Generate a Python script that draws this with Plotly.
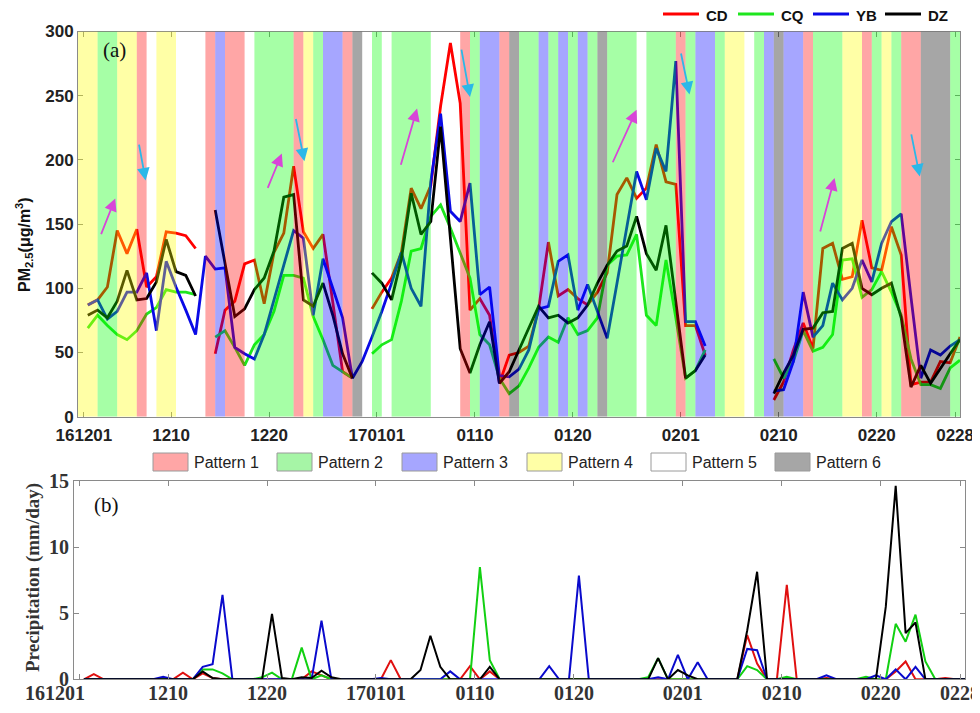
import plotly.graph_objects as go

N = None
W, H = 980, 713          # reference picture size
OFF = 8                  # page body margin offset
FW, FH = W, H - OFF

# ---------------- data ----------------
days = list(range(90))  # day index starting 2016-12-01
tick_pos = [-0.4, 8.5, 18.5, 29.5, 39.5, 49.5, 60.5, 70.5, 80.5, 88.5]
tick_labels = ['161201', '1210', '1220', '170101', '0110', '0120', '0201', '0210', '0220', '0228']

# weather pattern of each day (1..6)
pattern = [4, 4, 2, 2, 4, 4, 1, 5, 4, 4,
           5, 5, 5, 1, 3, 1, 1, 5, 2, 2,
           2, 2, 1, 4, 2, 3, 3, 1, 6, 5,
           2, 5, 2, 2, 2, 2, 5, 5, 5, 1,
           2, 3, 3, 1, 6, 2, 2, 3, 2, 3,
           2, 3, 2, 6, 2, 2, 2, 5, 2, 2,
           2, 1, 2, 3, 3, 2, 4, 4, 5, 2,
           3, 6, 3, 3, 1, 2, 2, 2, 4, 4,
           1, 2, 4, 2, 1, 1, 6, 6, 6, 2]
pattern_names = ['Pattern 1', 'Pattern 2', 'Pattern 3', 'Pattern 4', 'Pattern 5', 'Pattern 6']

# PM2.5 (ug/m3)
pm_cd = [87, 91, 101, 145, 127, 146, 101, 109, 144, 143,
         141, 131, N, 49, 83, 90, 119, 122, 88, 128,
         143, 195, 144, 131, 142, 89, 35, 30, N, 84,
         97, 108, 128, 178, 162, 180, 242, 291, 244, 83,
         92, 79, 26, 48, 50, 55, 84, 136, 94, 99,
         92, 87, 97, 112, 173, 186, 170, 178, 212, 183,
         181, 71, 71, 48, N, N, N, N, N, N,
         13, 27, 52, 73, 53, 131, 135, 107, 109, 153,
         116, 114, 148, 126, 25, 27, 27, 43, 42, 62]
pm_cq = [69, 79, 71, 64, 60, 67, 80, 85, 99, 97,
         97, 95, N, 62, 67, 54, 40, 56, 64, 82,
         110, 110, 108, 78, 60, 40, 35, 30, N, 49,
         56, 60, 90, 129, 131, 156, 165, 147, 128, 108,
         64, 56, 30, 18, 24, 38, 54, 62, 58, 77,
         64, 67, 77, 118, 125, 126, 142, 79, 71, 122,
         77, 30, 36, 52, N, N, N, N, N, N,
         45, 30, 43, 67, 51, 54, 64, 122, 123, 93,
         99, 113, 97, 79, 45, 25, 25, 22, 38, 44]
pm_yb = [87, 91, 76, 82, 97, 97, 112, 67, 121, 101,
         83, 64, 125, 115, 116, 54, 49, 45, 64, 90,
         118, 145, 139, 79, 123, 100, 77, 30, 43, 62,
         82, 104, 128, 100, 86, 183, 236, 160, 152, 182,
         95, 101, 32, 31, 37, 52, 84, 86, 121, 126,
         83, 103, 82, 61, 104, 148, 191, 169, 209, 191,
         277, 74, 74, 55, N, N, N, N, N, N,
         20, 21, 43, 97, 62, 71, 104, 91, 100, 122,
         105, 135, 152, 158, 93, 30, 52, 48, 55, 60]
pm_dz = [79, 83, 77, 90, 114, 91, 92, 105, 138, 113,
         110, 94, N, 161, 120, 78, 84, 99, 108, 129,
         171, 173, 91, 86, 104, 79, 49, 30, N, 112,
         104, 91, 123, 174, 142, 152, 226, 139, 53, 34,
         56, 74, 26, 35, 52, 69, 86, 77, 79, 73,
         77, 87, 104, 118, 129, 133, 156, 127, 114, 149,
         88, 30, 36, 48, N, N, N, N, N, N,
         18, 34, 48, 68, 69, 81, 82, 131, 135, 100,
         95, 100, 104, 77, 23, 40, 26, 38, 49, 60]

# Precipitation (mm/day)
pr_cd = [0, 0.4, 0, 0, 0, 0, 0, 0, 0, 0,
         0.5, 0, 0.45, 0.1, 0, 0, 0, 0, 0, 0,
         0, 0, 0, 0.6, 0.3, 0, 0, 0, 0, 0,
         0, 1.45, 0, 0, 0, 0, 0, 0, 0, 1.0,
         0, 0.6, 0, 0, 0, 0, 0, 0, 0, 0,
         0, 0, 0, 0, 0, 0, 0, 0, 0, 0,
         0, 0, 0, 0, 0, 0, 0, 3.35, 1.2, 0,
         0, 7.15, 0, 0, 0, 0.1, 0, 0, 0, 0,
         0, 0, 0.6, 1.35, 0, 0, 0, 0.1, 0, 0]
pr_cq = [0, 0, 0, 0, 0, 0, 0, 0, 0, 0,
         0, 0, 0.75, 0.75, 0.45, 0, 0, 0, 0.15, 0.5,
         0, 0, 2.4, 0, 0.3, 0, 0, 0, 0, 0,
         0, 0, 0, 0, 0, 0, 0, 0, 0, 0,
         8.5, 1.45, 0, 0, 0, 0, 0, 0, 0, 0,
         0, 0, 0, 0, 0, 0, 0, 0.15, 1.6, 0,
         0, 0, 0, 0, 0, 0, 0, 1.0, 0.7, 0,
         0, 0.2, 0, 0, 0, 0, 0, 0, 0, 0.2,
         0, 0, 4.2, 2.85, 4.9, 1.35, 0, 0, 0, 0]
pr_yb = [0, 0, 0, 0, 0, 0, 0, 0, 0.2, 0,
         0, 0, 0.95, 1.15, 6.4, 0, 0, 0, 0, 0,
         0, 0, 0, 0, 4.45, 0, 0, 0, 0, 0,
         0.1, 0, 0, 0, 0, 0, 0, 0.6, 0, 0,
         0, 0, 0, 0, 0, 0, 0, 1.0, 0, 0,
         7.85, 0, 0, 0, 0, 0, 0, 0, 0.15, 0,
         1.85, 0, 1.3, 0, 0, 0, 0, 2.3, 2.2, 0,
         0, 0, 0, 0, 0, 0.3, 0, 0, 0, 0,
         0.3, 0, 0.75, 0, 0.95, 0, 0, 0, 0, 0]
pr_dz = [0, 0, 0, 0, 0, 0, 0, 0, 0, 0,
         0, 0, 0.6, 0.1, 0, 0, 0, 0, 0, 4.95,
         0.1, 0, 0.15, 0.1, 0.65, 0.15, 0, 0, 0, 0,
         0, 0, 0, 0, 0.7, 3.3, 0.95, 0, 0, 0,
         0, 0.95, 0, 0, 0, 0, 0, 0, 0, 0,
         0, 0, 0, 0, 0, 0, 0, 0, 1.6, 0,
         0.7, 0.3, 0, 0, 0, 0, 0, 3.7, 8.15, 0,
         0, 0, 0, 0, 0, 0, 0, 0, 0, 0,
         0, 5.5, 14.65, 3.5, 4.3, 0, 0, 0, 0, 0]

site_names = ['CD', 'CQ', 'YB', 'DZ']

# arrows: (tail_x, tail_y, head_x, head_y, kind) in data units
arrows = [(1.3, 141, 2.8, 170, 'up'), (5.2, 213, 5.9, 184, 'down'),
          (18.3, 177, 19.8, 205, 'up'), (21.2, 233, 22.1, 199, 'down'),
          (31.9, 195, 33.6, 240, 'up'), (38.1, 287, 39.0, 249, 'down'),
          (53.5, 197, 56.0, 239, 'up'), (60.5, 284, 61.4, 251, 'down'),
          (74.7, 143, 76.2, 186, 'up'), (84.0, 221, 84.9, 187, 'down')]

# ---------------- styles ----------------
line_top = {'CD': '#FF0000', 'CQ': '#1EE61E', 'YB': '#0A0AE6', 'DZ': '#000000'}
line_bot = {'CD': '#E01010', 'CQ': '#12D012', 'YB': '#0A0ACC', 'DZ': '#000000'}
pat_fill = {1: 'rgb(255,0,0)', 2: 'rgb(0,255,0)', 3: 'rgb(0,0,255)',
            4: 'rgb(255,255,0)', 5: 'rgb(255,255,255)', 6: 'rgb(0,0,0)'}
pat_legend = {1: '#FFA6A6', 2: '#A6F5A6', 3: '#A6A6FF', 4: '#FFFFA6', 5: '#FFFFFF', 6: '#A6A6A6'}
ALPHA = 0.35
AX = '#8a8a8a'
SANS = 'Liberation Sans, Arial, sans-serif'
SERIF = 'Liberation Serif, Times New Roman, serif'


def px(x):
    return (x - OFF) / FW


def py(y):
    return 1 - (y - OFF) / FH


fig = go.Figure()

pm = {'CD': pm_cd, 'CQ': pm_cq, 'YB': pm_yb, 'DZ': pm_dz}
pr = {'CD': pr_cd, 'CQ': pr_cq, 'YB': pr_yb, 'DZ': pr_dz}
for s in site_names:
    fig.add_trace(go.Scatter(x=days, y=pm[s], mode='lines', name=s,
                             line=dict(color=line_top[s], width=2.8),
                             xaxis='x', yaxis='y', connectgaps=False))
for s in site_names:
    fig.add_trace(go.Scatter(x=days, y=pr[s], mode='lines', name=s,
                             line=dict(color=line_bot[s], width=2),
                             xaxis='x2', yaxis='y2'))

shapes = []
# background pattern bands (drawn semi-transparent over the lines)
start = 0
for j in range(1, len(pattern) + 1):
    if j == len(pattern) or pattern[j] != pattern[start]:
        p = pattern[start]
        if p != 5:
            shapes.append(dict(type='rect', xref='x', yref='y', x0=start - 1, x1=j - 1,
                               y0=0, y1=300, fillcolor=pat_fill[p], opacity=ALPHA,
                               line=dict(width=0), layer='above'))
        start = j

annotations = []
# pattern legend
box_x = [153, 277, 402, 527, 651, 775]
for i, name in enumerate(pattern_names):
    x0 = box_x[i]
    shapes.append(dict(type='rect', xref='paper', yref='paper',
                       x0=px(x0), x1=px(x0 + 35), y0=py(471), y1=py(453),
                       fillcolor=pat_legend[i + 1], line=dict(color='#9a9a9a', width=1)))
    annotations.append(dict(xref='paper', yref='paper', x=px(x0 + 39), y=py(462),
                            text=name, showarrow=False, xanchor='left', yanchor='middle',
                            font=dict(family=SANS, size=16, color='#222')))

# site legend at top
leg_x = [663, 738, 813, 885]
for i, s in enumerate(site_names):
    x0 = leg_x[i]
    shapes.append(dict(type='line', xref='paper', yref='paper',
                       x0=px(x0), x1=px(x0 + 36), y0=py(14), y1=py(14),
                       line=dict(color=line_top[s], width=3)))
    annotations.append(dict(xref='paper', yref='paper', x=px(x0 + 41), y=py(15),
                            text=s, showarrow=False, xanchor='left', yanchor='middle',
                            font=dict(family=SANS, size=15, color='#111', weight='bold')))

# arrows
for tx, ty, hx, hy, kind in arrows:
    col = '#D845D8' if kind == 'up' else '#2BB8E8'
    annotations.append(dict(x=hx, y=hy, ax=tx, ay=ty, xref='x', yref='y', axref='x', ayref='y',
                            text='', showarrow=True, arrowhead=2, arrowsize=1.4,
                            arrowwidth=1.8, arrowcolor=col))

# panel labels and axis titles
annotations += [
    dict(xref='paper', yref='paper', x=px(114), y=py(50), text='(a)', showarrow=False,
         xanchor='center', yanchor='middle',
         font=dict(family=SERIF, size=21, color='#111')),
    dict(xref='paper', yref='paper', x=px(106), y=py(505), text='(b)', showarrow=False,
         xanchor='center', yanchor='middle',
         font=dict(family=SERIF, size=21, color='#111')),
    dict(xref='paper', yref='paper', x=px(24), y=py(245), textangle=-90,
         xanchor='center', yanchor='middle',
         text='PM<sub>2.5</sub>(μg/m<sup>3</sup>)', showarrow=False,
         font=dict(family=SANS, size=16, color='#111', weight='bold')),
    dict(xref='paper', yref='paper', x=px(33), y=py(578), textangle=-90,
         xanchor='center', yanchor='middle',
         text='Precipitation (mm/day)', showarrow=False,
         font=dict(family=SERIF, size=19, color='#333', weight='bold')),
    dict(xref='paper', yref='paper', x=px(55), y=py(693), text=tick_labels[0], showarrow=False,
         xanchor='center', yanchor='middle',
         font=dict(family=SERIF, size=20, color='#333', weight='bold')),
]

axis_common = dict(showgrid=False, zeroline=False, showline=True, linecolor=AX, linewidth=1,
                   mirror='ticks', ticks='inside', ticklen=5, tickcolor=AX, tickwidth=1,
                   automargin=False)

fig.update_layout(
    template='none',
    width=FW, height=FH, margin=dict(l=0, r=0, t=0, b=0, pad=0),
    plot_bgcolor='white', paper_bgcolor='white', showlegend=False,
    xaxis=dict(domain=[px(78), px(960)], range=[-1, 89], anchor='y',
               tickmode='array', tickvals=tick_pos, ticktext=tick_labels,
               ticklabeloverflow='allow', ticklabelstandoff=3,
               tickfont=dict(family=SANS, size=17, color='#222', weight='bold'), **axis_common),
    yaxis=dict(domain=[py(416.7), py(31.5)], range=[0, 300], anchor='x',
               tickmode='array', tickvals=[0, 50, 100, 150, 200, 250, 300],
               tickfont=dict(family=SANS, size=17, color='#222', weight='bold'), **axis_common),
    xaxis2=dict(domain=[px(74), px(965)], range=[-1, 89], anchor='y2',
                tickmode='array', tickvals=[-0.4] + tick_pos[1:], ticktext=[''] + tick_labels[1:],
                ticklabeloverflow='allow', ticklabelstandoff=-4,
                tickfont=dict(family=SERIF, size=20, color='#333', weight='bold'), **axis_common),
    yaxis2=dict(domain=[py(679.3), py(481.3)], range=[0, 15], anchor='x2',
                tickmode='array', tickvals=[0, 5, 10, 15],
                tickfont=dict(family=SERIF, size=20, color='#333', weight='bold'), **axis_common),
    shapes=shapes, annotations=annotations,
)

fig.write_html('out.html')
